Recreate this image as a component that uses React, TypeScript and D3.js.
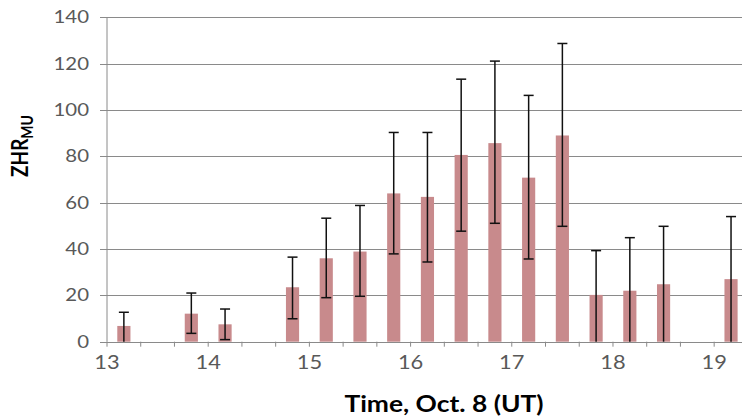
import React from "react";
import * as d3 from "d3";

// 20-minute bins (start time, UT on Oct. 8), bar value and error range
const binStarts = ["13:00", "13:40", "14:00", "14:40", "15:00", "15:20", "15:40", "16:00", "16:20", "16:40", "17:00", "17:20", "17:40", "18:00", "18:20", "19:00"];
const zhr = [6.8, 12.1, 7.5, 23.5, 36, 38.9, 64, 62.5, 80.6, 85.7, 70.8, 89, 20.2, 22, 24.8, 27];
const errHigh = [12.7, 21, 14.1, 36.5, 53.3, 58.8, 90.3, 90.3, 113.3, 121.1, 106.3, 128.7, 39.3, 44.9, 49.8, 54];
const errLow = [0, 3.6, 0.9, 9.9, 19, 19.6, 37.9, 34.4, 47.7, 51.1, 35.7, 49.8, 0, 0, 0, 0];
const yTicks = [0, 20, 40, 60, 80, 100, 120, 140];
const xTickLabels = [13, 14, 15, 16, 17, 18, 19];

const W = 742;
const H = 420;
const binHours = 1 / 3;

function toHours(s: string) {
  const [h, m] = s.split(":").map(Number);
  return h + m / 60;
}

function SText({ x, y, sx, children, ...rest }: any) {
  return (
    <g transform={`translate(${x},${y}) scale(${sx},1)`}>
      <text x={0} y={0} {...rest}>
        {children}
      </text>
    </g>
  );
}

export default function App() {
  const x = d3.scaleLinear().domain([13, 19 + binHours]).range([107, 747.9]);
  const y = d3.scaleLinear().domain([0, 140]).range([341.7, 17.3]);
  const binW = x(13 + binHours) - x(13);
  const barW = binW * 0.39;
  const minorTicks = d3.range(13, 19 + binHours + 1e-6, binHours);
  const gridColor = "#8a8a8a";
  const font = "Lato, 'Open Sans', sans-serif";

  return (
    <svg width={W} height={H} style={{ position: "absolute", left: 0, top: 0, background: "#fff" }}>
      <rect x={0} y={0} width={W} height={H} fill="#fff" />
      {/* grid lines */}
      {yTicks.map((t) => (
        <line key={"g" + t} x1={100} x2={W} y1={Math.round(y(t)) + 0.5} y2={Math.round(y(t)) + 0.5} stroke={gridColor} strokeWidth={1} />
      ))}
      {/* y axis line */}
      <line x1={x(13)} x2={x(13)} y1={y(140)} y2={y(0)} stroke={gridColor} strokeWidth={1} />
      {/* x ticks */}
      {minorTicks.map((t, i) => (
        <line key={"xt" + i} x1={x(t)} x2={x(t)} y1={y(0)} y2={y(0) + 5} stroke={gridColor} strokeWidth={1} />
      ))}
      {/* bars */}
      {binStarts.map((s, i) => {
        const c = toHours(s) + binHours / 2;
        return (
          <rect key={"b" + i} x={x(c) - barW / 2} y={y(zhr[i])} width={barW} height={y(0) - y(zhr[i])} fill="#c88a8c" />
        );
      })}
      {/* error bars */}
      {binStarts.map((s, i) => {
        const c = x(toHours(s) + binHours / 2);
        const cap = 5;
        return (
          <g key={"e" + i} stroke="#111" strokeWidth={1.5}>
            <line x1={c} x2={c} y1={y(errHigh[i])} y2={y(errLow[i])} />
            <line x1={c - cap} x2={c + cap} y1={y(errHigh[i])} y2={y(errHigh[i])} />
            {errLow[i] > 0 && <line x1={c - cap} x2={c + cap} y1={y(errLow[i])} y2={y(errLow[i])} />}
          </g>
        );
      })}
      {/* y tick labels */}
      {yTicks.map((t) => (
        <SText key={"yl" + t} x={89} y={y(t)} sx={1.2} dy="0.36em" textAnchor="end" fontFamily={font} fontSize={17} fill="#595959">
          {t}
        </SText>
      ))}
      {/* x tick labels */}
      {xTickLabels.map((t) => (
        <SText key={"xl" + t} x={x(t)} y={369} sx={1.15} textAnchor="middle" fontFamily={font} fontSize={19} fill="#595959">
          {t}
        </SText>
      ))}
      {/* axis titles */}
      <SText x={444} y={412} sx={1.2} textAnchor="middle" fontFamily={font} fontWeight="bold" fontSize={22} fill="#000">
        Time, Oct. 8 (UT)
      </SText>
      <g transform={`translate(28,146) scale(1.2,1) rotate(-90)`}>
        <text x={0} y={0} textAnchor="middle" fontFamily={font} fontWeight="bold" fontSize={19} fill="#000">
          ZHR<tspan fontSize={14} dy={4}>MU</tspan>
        </text>
      </g>
    </svg>
  );
}
